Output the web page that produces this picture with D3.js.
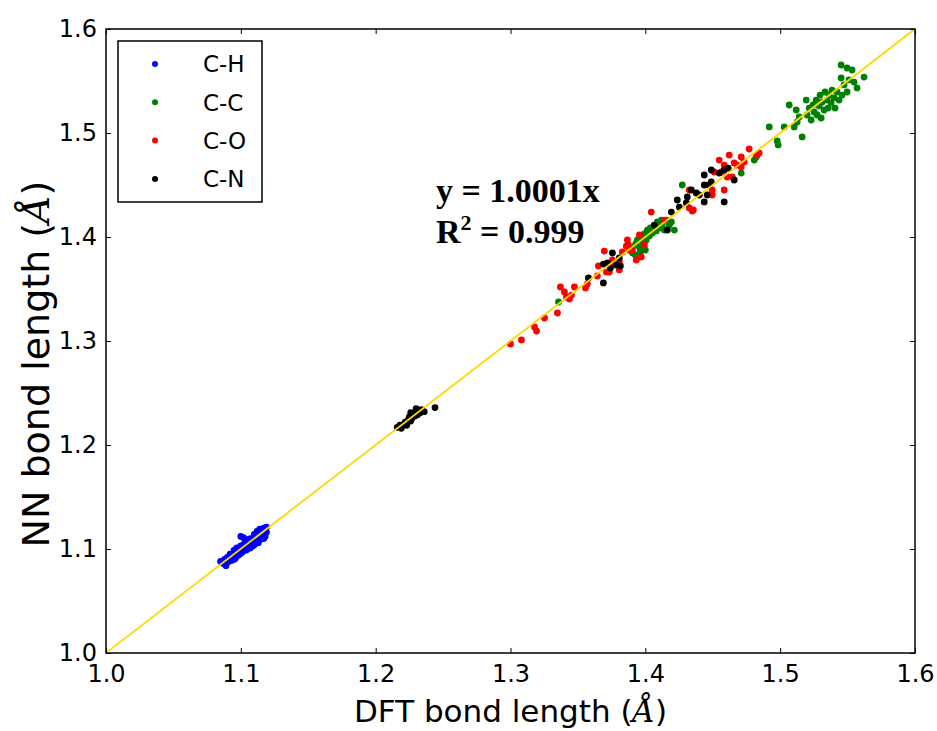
<!DOCTYPE html>
<html><head><meta charset="utf-8">
<script src="https://cdn.jsdelivr.net/npm/d3@7"></script>
<style>body{margin:0;background:#fff}svg{display:block}</style>
</head><body><svg id="c" width="937" height="731"></svg>
<script>
const xTicks=[1.0,1.1,1.2,1.3,1.4,1.5,1.6];
const yTicks=[1.0,1.1,1.2,1.3,1.4,1.5,1.6];
const fitSlope=1.0001;
const fitText="y = 1.0001x";
const r2Text="0.999";

const CH=[[1.085,1.088],[1.087,1.086],[1.088,1.090],[1.089,1.087],[1.090,1.089],[1.090,1.092],[1.091,1.088],[1.092,1.091],[1.093,1.089],[1.093,1.094],[1.094,1.092],[1.095,1.090],[1.095,1.096],[1.096,1.093],[1.097,1.095],[1.097,1.098],[1.098,1.094],[1.098,1.097],[1.099,1.100],[1.100,1.096],[1.100,1.099],[1.101,1.102],[1.101,1.097],[1.102,1.100],[1.102,1.104],[1.103,1.099],[1.103,1.106],[1.104,1.102],[1.104,1.108],[1.105,1.100],[1.105,1.104],[1.106,1.107],[1.106,1.103],[1.107,1.105],[1.107,1.110],[1.108,1.104],[1.108,1.108],[1.109,1.106],[1.110,1.109],[1.110,1.104],[1.111,1.111],[1.111,1.107],[1.112,1.108],[1.113,1.110],[1.113,1.113],[1.114,1.109],[1.115,1.112],[1.116,1.110],[1.116,1.115],[1.117,1.113],[1.118,1.118],[1.118,1.112],[1.119,1.116],[1.117,1.120],[1.110,1.114],[1.100,1.103],[1.095,1.099],[1.092,1.095],[1.107,1.101],[1.100,1.112],[1.102,1.111],[1.112,1.117],[1.114,1.119],[1.119,1.121],[1.096,1.091],[1.099,1.095],[1.104,1.099],[1.109,1.103],[1.113,1.106],[1.117,1.110],[1.089,1.084],[1.097,1.101],[1.105,1.109]];

const CC=[[1.3356,1.3375],[1.3904,1.3846],[1.3933,1.3942],[1.3896,1.3894],[1.3926,1.3923],[1.3941,1.3971],[1.3956,1.3904],[1.3970,1.3990],[1.3985,1.3942],[1.3993,1.4029],[1.4007,1.3971],[1.4015,1.4067],[1.4030,1.4010],[1.4037,1.4087],[1.4052,1.4038],[1.4067,1.4106],[1.4081,1.4058],[1.4089,1.4144],[1.4104,1.4087],[1.4119,1.4163],[1.4126,1.4106],[1.4141,1.4067],[1.4156,1.4163],[1.4178,1.4115],[1.4215,1.4067],[1.4193,1.4144],[1.3963,1.3856],[1.4000,1.3875],[1.3926,1.3827],[1.4274,1.4500],[1.4711,1.4615],[1.4822,1.4769],[1.4808,1.4740],
[1.4919,1.5058],[1.4978,1.4923],[1.4985,1.4885],[1.5030,1.5058],[1.5067,1.5269],[1.5163,1.4962],[1.5104,1.5058],[1.5126,1.5106],[1.5141,1.5154],[1.5119,1.5221],[1.5193,1.5317],[1.5200,1.5173],[1.5215,1.5240],[1.5230,1.5125],[1.5244,1.5269],[1.5252,1.5202],[1.5267,1.5317],[1.5274,1.5173],[1.5289,1.5260],[1.5296,1.5365],[1.5304,1.5144],[1.5311,1.5298],[1.5326,1.5221],[1.5333,1.5394],[1.5348,1.5317],[1.5356,1.5240],[1.5363,1.5365],[1.5378,1.5288],[1.5385,1.5413],[1.5400,1.5337],[1.5407,1.5240],[1.5422,1.5394],[1.5452,1.5654],[1.5496,1.5625],[1.5533,1.5606],[1.5452,1.5529],[1.5548,1.5490],[1.5622,1.5538],[1.5570,1.5433],[1.5496,1.5394],[1.5459,1.5365],[1.5474,1.5462],[1.5511,1.5510],[1.5437,1.5317]];

const CO=[[1.300,1.2971],[1.3081,1.3010],[1.3178,1.3135],[1.3193,1.3096],[1.3252,1.3221],[1.3348,1.3269],[1.3370,1.3519],[1.3400,1.3471],[1.3415,1.3423],[1.3437,1.3404],[1.3452,1.3442],[1.3474,1.3519],[1.3556,1.3510],[1.3570,1.3548],[1.3644,1.3625],[1.3652,1.3721],[1.3696,1.3865],[1.3711,1.3663],[1.3733,1.3663],[1.3756,1.3779],[1.3807,1.3760],[1.3830,1.3856],[1.3859,1.3913],[1.3881,1.3875],[1.3904,1.3875],[1.3970,1.3808],[1.3867,1.3971],[1.4044,1.4240],[1.4141,1.4163],[1.3956,1.4019],[1.3993,1.3923],[1.4326,1.4279],[1.4356,1.4260],[1.4326,1.4452],[1.4496,1.4452],[1.4496,1.4404],[1.4585,1.4452],[1.4548,1.4740],[1.4622,1.4788],[1.4711,1.4769],[1.4770,1.4846],[1.4830,1.4788],[1.4844,1.4808],[1.4733,1.4721],[1.4563,1.4625],[1.4607,1.4577],[1.4644,1.4577],[1.4681,1.4692],[1.4511,1.4625],[1.4585,1.4692],[1.4659,1.4712],[1.4711,1.4673],[1.4348,1.4250],[1.3874,1.3923],[1.3933,1.3779],[1.3807,1.3683],[1.3748,1.3731]];

const CN=[[1.216,1.217],[1.218,1.219],[1.219,1.216],[1.221,1.220],[1.222,1.222],[1.223,1.219],[1.224,1.224],[1.225,1.227],[1.226,1.223],[1.227,1.226],[1.228,1.230],[1.229,1.228],[1.230,1.232],[1.231,1.229],[1.232,1.233],[1.233,1.231],[1.234,1.234],[1.236,1.232],[1.244,1.236],[1.226,1.231],[1.230,1.235],
[1.3578,1.3606],[1.3689,1.3558],[1.3689,1.3740],[1.3719,1.3750],[1.3756,1.3846],[1.3785,1.3731],[1.3815,1.3721],[1.3807,1.3798],[1.3741,1.3702],[1.4067,1.4115],[1.4163,1.4067],[1.4193,1.4240],[1.4237,1.4356],[1.4252,1.4288],[1.4311,1.4385],[1.4304,1.4327],[1.4341,1.4452],[1.4378,1.4423],[1.4400,1.4404],[1.4437,1.4500],[1.4459,1.4404],[1.4437,1.4337],[1.4474,1.4500],[1.4489,1.4529],[1.4437,1.4596],[1.4489,1.4644],[1.4585,1.4337],[1.4585,1.4644],[1.4615,1.4663],[1.4659,1.4548],[1.4548,1.4615]];

const seriesNames=["C-H","C-C","C-O","C-N"];
const seriesColors=["#0000ff","#008000","#ff0000","#000000"];
const series=[CH,CC,CO,CN].map((d,i)=>({name:seriesNames[i],color:seriesColors[i],data:d}));

const svg=d3.select("#c");
const m={l:106,t:29,r:22,b:78};
const W=937-m.l-m.r, H=731-m.t-m.b;
const x=d3.scaleLinear().domain([1.0,1.6]).range([0,W]);
const y=d3.scaleLinear().domain([1.0,1.6]).range([H,0]);
const g=svg.append("g").attr("transform",`translate(${m.l},${m.t})`);
const fmt=d3.format(".1f");
const tickFont="'DejaVu Sans', sans-serif";

// points
series.forEach(s=>{
  g.append("g").selectAll("circle").data(s.data).join("circle")
   .attr("cx",d=>x(d[0])).attr("cy",d=>y(d[1])).attr("r",3.4).attr("fill",s.color);
});
// fit line
const xs=[1.0,1.6];
g.append("line").attr("x1",x(xs[0])).attr("y1",y(fitSlope*xs[0])).attr("x2",x(xs[1])).attr("y2",y(Math.min(1.6,fitSlope*xs[1])))
 .attr("stroke","#FFD700").attr("stroke-width",1.8);

// axes
function styleAxis(sel){sel.select(".domain").remove();sel.selectAll("line").attr("stroke","#000").attr("stroke-width",1);sel.selectAll("text").attr("font-family",tickFont).attr("font-size",24).attr("fill","#000");}
g.append("g").attr("transform",`translate(0,${H})`).call(d3.axisBottom(x).tickValues(xTicks).tickFormat(fmt).tickSizeInner(-5).tickSizeOuter(0).tickPadding(12)).call(styleAxis);
g.append("g").call(d3.axisLeft(y).tickValues(yTicks).tickFormat(fmt).tickSizeInner(-5).tickSizeOuter(0).tickPadding(9)).call(styleAxis);
g.append("g").call(d3.axisTop(x).tickValues(xTicks).tickFormat("").tickSizeInner(-5).tickSizeOuter(0)).call(styleAxis);
g.append("g").attr("transform",`translate(${W},0)`).call(d3.axisRight(y).tickValues(yTicks).tickFormat("").tickSizeInner(-5).tickSizeOuter(0)).call(styleAxis);
g.append("rect").attr("width",W).attr("height",H).attr("fill","none").attr("stroke","#000").attr("stroke-width",1.5);

// axis labels
const xl=svg.append("text").attr("x",m.l+W/2).attr("y",722).attr("text-anchor","middle").attr("font-family",tickFont).attr("font-size",31).attr("fill","#000");
xl.append("tspan").text("DFT bond length (");
xl.append("tspan").attr("font-family","'DejaVu Serif', serif").attr("font-style","italic").text("Å");
xl.append("tspan").text(")");
const yl=svg.append("text").attr("transform",`translate(49,364) rotate(-90)`).attr("text-anchor","middle").attr("font-family",tickFont).attr("font-size",38).attr("fill","#000");
yl.append("tspan").text("NN bond length (");
yl.append("tspan").attr("font-family","'DejaVu Serif', serif").attr("font-style","italic").text("Å");
yl.append("tspan").text(")");

// legend
const lg=svg.append("g").attr("transform","translate(118,41)");
lg.append("rect").attr("width",144).attr("height",161).attr("fill","#fff").attr("stroke","#000").attr("stroke-width",1.5);
series.forEach((s,i)=>{
  const yy=23+i*38.3;
  lg.append("circle").attr("cx",37).attr("cy",yy).attr("r",3).attr("fill",s.color);
  lg.append("text").attr("x",85).attr("y",yy).attr("dy","0.36em").attr("font-family",tickFont).attr("font-size",23).attr("fill","#000").text(s.name);
});

// annotation
const ann=svg.append("g").attr("font-family","'Liberation Serif','Times New Roman',serif").attr("font-weight","bold").attr("font-size",34).attr("fill","#000");
ann.append("text").attr("x",436).attr("y",202).text(fitText);
const r2=ann.append("text").attr("x",436).attr("y",243);
r2.append("tspan").text("R");
r2.append("tspan").attr("font-size",22).attr("dy",-13).text("2");
r2.append("tspan").attr("dy",13).text(" = "+r2Text);
</script></body></html>
